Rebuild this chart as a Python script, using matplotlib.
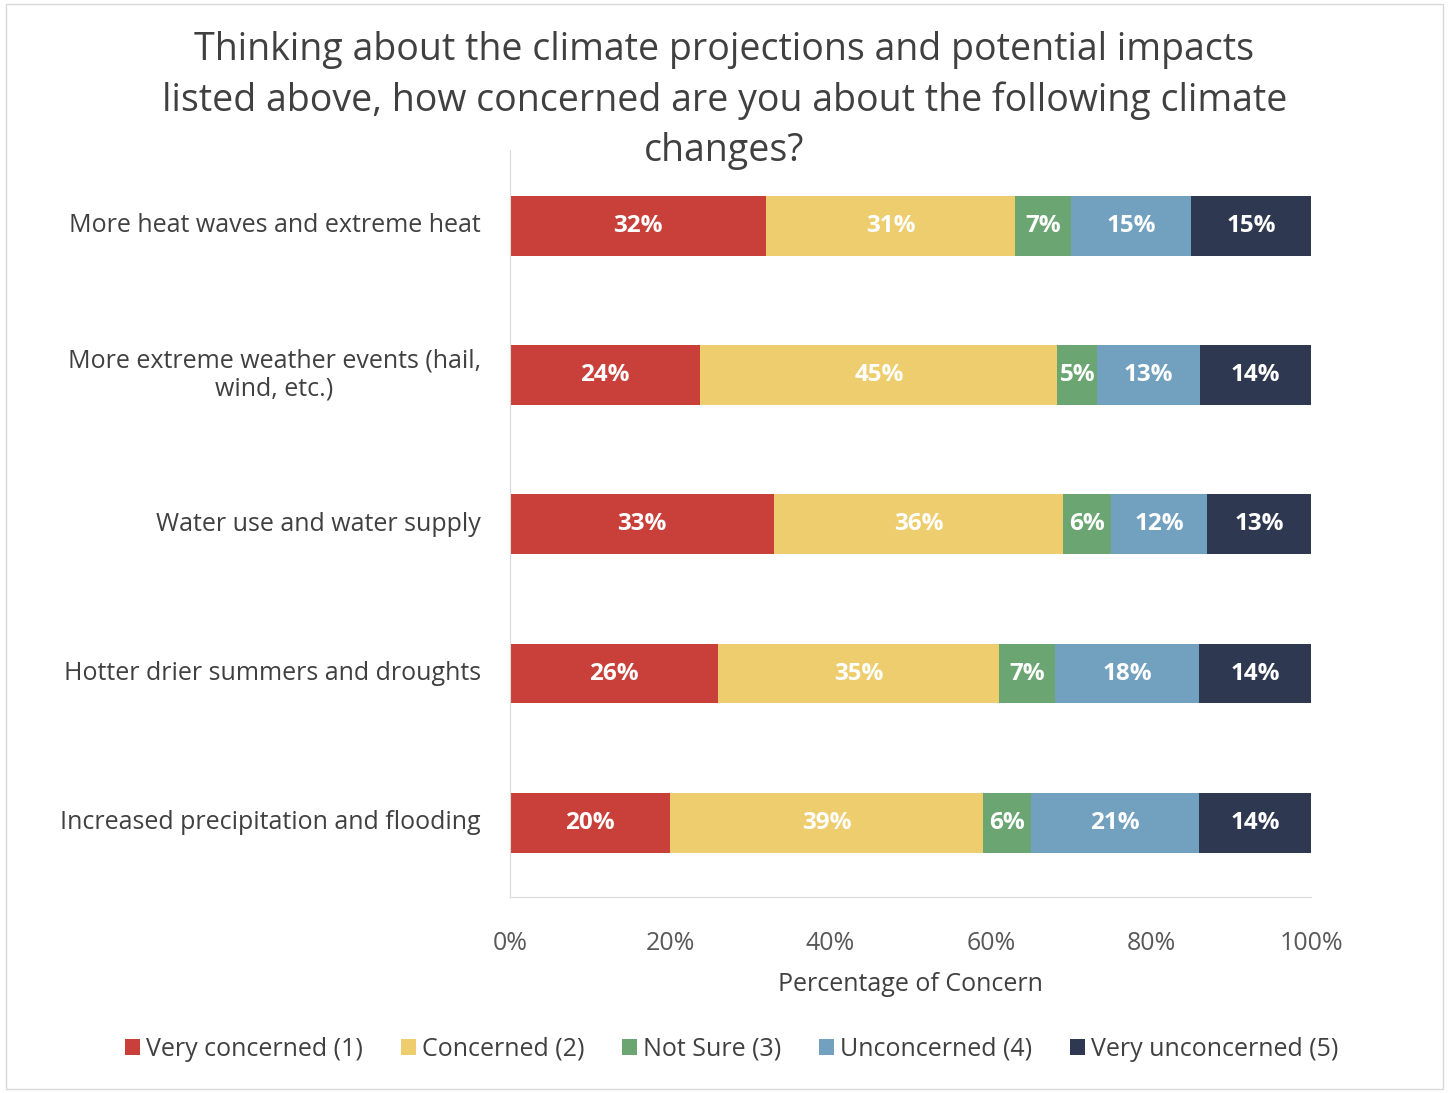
import matplotlib.pyplot as plt
from matplotlib.ticker import PercentFormatter

categories = ['More heat waves and extreme heat',
              'More extreme weather events (hail,\nwind, etc.)',
              'Water use and water supply',
              'Hotter drier summers and droughts',
              'Increased precipitation and flooding']
series = ['Very concerned (1)', 'Concerned (2)', 'Not Sure (3)',
          'Unconcerned (4)', 'Very unconcerned (5)']
very_concerned = [32, 24, 33, 26, 20]
concerned = [31, 45, 36, 35, 39]
not_sure = [7, 5, 6, 7, 6]
unconcerned = [15, 13, 12, 18, 21]
very_unconcerned = [15, 14, 13, 14, 14]
colors = ['#C9403A', '#EDCD6E', '#6BA672', '#72A0BF', '#2E3850']

plt.rcParams['font.family'] = ['Open Sans', 'DejaVu Sans']
fig = plt.figure(figsize=(14.49, 10.93), dpi=100)
fig.patches.append(plt.Rectangle((0.004, 0.004), 0.992, 0.992, transform=fig.transFigure,
                                 fill=False, edgecolor='#D9D9D9', linewidth=1))
ax = fig.add_axes([0.352, 0.179, 0.553, 0.684])

data = [very_concerned, concerned, not_sure, unconcerned, very_unconcerned]
totals = [sum(col) for col in zip(*data)]
y = list(range(len(categories)))
left = [0] * len(categories)
for vals, name, c in zip(data, series, colors):
    widths = [v / t * 100 for v, t in zip(vals, totals)]
    ax.barh(y, widths, left=left, height=0.4, color=c, label=name)
    for yi, l, w, v in zip(y, left, widths, vals):
        ax.text(l + w / 2, yi, f'{v}%', ha='center', va='center',
                color='white', fontsize=17.5, fontweight='bold')
    left = [l + w for l, w in zip(left, widths)]

ax.set_xlim(0, 100)
ax.set_ylim(4.5, -0.51)
ax.set_yticks(y)
ax.set_yticklabels([])
for yi, lab in zip(y, categories):
    ax.annotate(lab, xy=(0, yi), xycoords=('axes fraction', 'data'),
                xytext=(-21, 0), textcoords='offset points', ha='right', va='center',
                fontsize=18, color='#404040', multialignment='center')
ax.tick_params(axis='y', length=0)
ax.tick_params(axis='x', length=0, labelsize=18, labelcolor='#595959', pad=24)
ax.xaxis.set_major_formatter(PercentFormatter(decimals=0))
ax.set_xticks(range(0, 101, 20))
for s in ['top', 'right']:
    ax.spines[s].set_visible(False)
for s in ['left', 'bottom']:
    ax.spines[s].set_color('#D9D9D9')
ax.set_xlabel('Percentage of Concern', fontsize=18, color='#404040', labelpad=12)

fig.suptitle('Thinking about the climate projections and potential impacts\n'
             'listed above, how concerned are you about the following climate\nchanges?',
             fontsize=27, color='#404040', y=0.972, x=0.5, linespacing=1.42)
fig.legend(loc='lower center', ncol=5, frameon=False, fontsize=18,
           bbox_to_anchor=(0.505, 0.008), handlelength=0.6, handleheight=0.6,
           handletextpad=0.25, columnspacing=1.5, labelcolor='#404040')
fig.savefig('out.png')
